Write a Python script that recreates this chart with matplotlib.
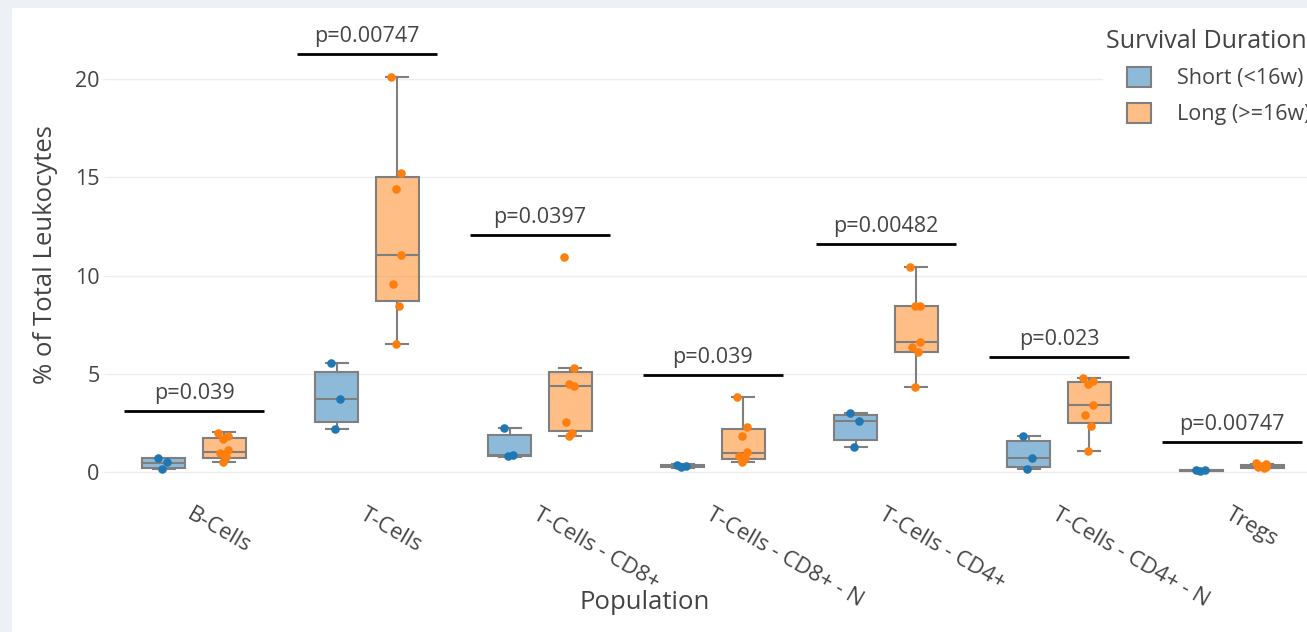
import matplotlib.pyplot as plt
import numpy as np
from matplotlib.patches import Rectangle, Patch

plt.rcParams['font.family'] = ['Open Sans', 'DejaVu Sans']

categories = ['B-Cells', 'T-Cells', 'T-Cells - CD8+', 'T-Cells - CD8+ - N',
              'T-Cells - CD4+', 'T-Cells - CD4+ - N', 'Tregs']

# box stats: lower whisker, q1, median, q3, upper whisker
short_lo = [0.12, 2.18, 0.77, 0.18, 1.27, 0.15, 0.02]
short_q1 = [0.20, 2.55, 0.80, 0.22, 1.62, 0.25, 0.04]
short_med = [0.45, 3.69, 0.85, 0.27, 2.58, 0.71, 0.06]
short_q3 = [0.68, 5.07, 1.87, 0.33, 2.89, 1.56, 0.09]
short_hi = [0.72, 5.52, 2.21, 0.38, 3.01, 1.83, 0.11]

long_lo = [0.50, 6.51, 1.80, 0.51, 4.33, 1.07, 0.18]
long_q1 = [0.68, 8.72, 2.07, 0.63, 6.12, 2.47, 0.20]
long_med = [1.00, 11.03, 4.37, 0.94, 6.63, 3.40, 0.25]
long_q3 = [1.70, 15.02, 5.07, 2.18, 8.46, 4.59, 0.32]
long_hi = [2.00, 20.10, 5.27, 3.82, 10.45, 4.76, 0.40]

# individual samples
short_pts = [
    [0.71, 0.48, 0.12],
    [5.52, 3.69, 2.18],
    [2.21, 0.84, 0.78],
    [0.36, 0.27, 0.22],
    [3.01, 2.57, 1.27],
    [1.83, 0.71, 0.12],
    [0.11, 0.07, 0.04],
]
long_pts = [
    [1.96, 1.82, 1.65, 1.11, 0.95, 0.73, 0.51],
    [20.1, 15.22, 14.41, 11.03, 9.55, 8.46, 6.51],
    [10.93, 5.27, 4.45, 4.37, 2.52, 1.96, 1.80],
    [3.82, 2.29, 1.83, 1.02, 0.82, 0.68, 0.51],
    [10.45, 8.46, 8.46, 6.63, 6.34, 6.09, 4.33],
    [4.76, 4.62, 4.47, 3.40, 2.89, 2.33, 1.07],
    [0.46, 0.38, 0.30, 0.25, 0.22, 0.20],
]

p_labels = ['p=0.039', 'p=0.00747', 'p=0.0397', 'p=0.039', 'p=0.00482', 'p=0.023', 'p=0.00747']
p_heights = [3.08, 21.27, 12.06, 4.93, 11.59, 5.86, 1.53]

W, H = 1307, 632
fig = plt.figure(figsize=(W / 100, H / 100), dpi=100, facecolor='#edf1f5')
fig.patches.append(Rectangle((12 / W, 0), 1, 1 - 8 / H, transform=fig.transFigure,
                             facecolor='white', edgecolor='none', zorder=-1))

ax = fig.add_axes([107.5 / W, 150 / H, 1211 / W, 467 / H])
ax.set_facecolor('none')
for s in ax.spines.values():
    s.set_visible(False)

txt = '#444444'
edge = '#7f7f7f'
c_short = '#1f77b4'
c_long = '#ff7f0e'
off = 0.175
jit = np.array([-0.035, 0.02, -0.01, 0.02, -0.025, 0.01, -0.005])


def stats(lo, q1, med, q3, hi):
    return [dict(whislo=a, q1=b, med=c, q3=d, whishi=e, fliers=[])
            for a, b, c, d, e in zip(lo, q1, med, q3, hi)]


def fill(c):
    return (*plt.matplotlib.colors.to_rgb(c), 0.5)


groups = [
    (stats(short_lo, short_q1, short_med, short_q3, short_hi), short_pts, c_short, -off),
    (stats(long_lo, long_q1, long_med, long_q3, long_hi), long_pts, c_long, off),
]
pos = np.arange(len(categories))
for st, pts, col, dx in groups:
    ax.bxp(st, positions=pos + dx, widths=0.25, capwidths=0.125, patch_artist=True,
           showfliers=False, manage_ticks=False,
           boxprops=dict(facecolor=fill(col), edgecolor=edge, linewidth=1.5),
           medianprops=dict(color=edge, linewidth=1.5),
           whiskerprops=dict(color=edge, linewidth=1.5),
           capprops=dict(color=edge, linewidth=1.5), zorder=2)
    for i, vals in enumerate(pts):
        xs = i + dx + jit[:len(vals)]
        ax.scatter(xs, vals, s=38, color=col, zorder=3, linewidths=0)

for i, (lab, h) in enumerate(zip(p_labels, p_heights)):
    ax.plot([i - 0.405, i + 0.405], [h, h], color='black', lw=2, zorder=4,
            solid_capstyle='butt')
    ax.annotate(lab, (i, h), xytext=(0, 5), textcoords='offset points',
                ha='center', va='bottom', fontsize=15.5, color=txt)

ax.set_xlim(-0.5, 6.5)
ax.set_ylim(-0.525, 23.28)
ax.set_yticks([0, 5, 10, 15, 20])
ax.yaxis.grid(True, color='#eeeeee', lw=1)
ax.set_axisbelow(True)
ax.tick_params(axis='y', length=3.6, color='#eeeeee', labelsize=15.5,
               labelcolor=txt, pad=2)
ax.set_xticks(pos)
ax.set_xticklabels(categories, rotation=-30, ha='left', va='top',
                   rotation_mode='anchor', fontsize=16, color=txt)
ax.tick_params(axis='x', length=0, pad=16)

ax.set_ylabel('% of Total Leukocytes', fontsize=18.5, color=txt)
ax.yaxis.set_label_coords(-0.0516, 0.488)
ax.yaxis.label.set_va('center')
ax.set_xlabel('Population', fontsize=18.5, color=txt)
ax.xaxis.set_label_coords(0.4438, -0.257)
ax.xaxis.label.set_va('center')

# legend
fig.patches.append(Rectangle((1103 / W, 1 - 130 / H), 1, 110 / H, transform=fig.transFigure,
                             facecolor='white', edgecolor='none', zorder=1))
fig.text(1106 / W, 1 - 42 / H, 'Survival Duration', ha='left', va='center',
         fontsize=18, color=txt, zorder=6)
handles = [Patch(facecolor=fill(c_short), edgecolor=edge, lw=1.5),
           Patch(facecolor=fill(c_long), edgecolor=edge, lw=1.5)]
fig.legend(handles, ['Short (<16w)', 'Long (>=16w)'], loc='upper left',
           bbox_to_anchor=(1127 / W, 1 - 67 / H), frameon=False, fontsize=15.5,
           labelcolor=txt, handlelength=1.12, handleheight=1.07, handletextpad=1.2,
           labelspacing=0.62, borderpad=0, borderaxespad=0)

fig.savefig('out.png', dpi=100, facecolor=fig.get_facecolor())
